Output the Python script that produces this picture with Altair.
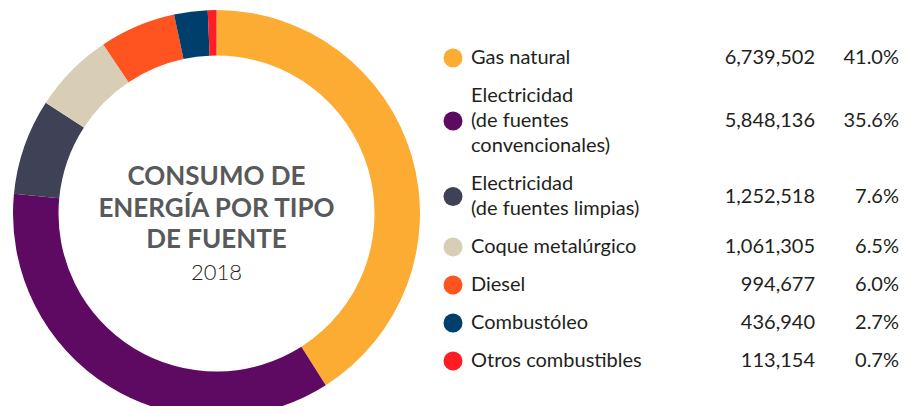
import altair as alt
import pandas as pd

categories = ["Gas natural", "Electricidad\n(de fuentes\nconvencionales)",
              "Electricidad\n(de fuentes limpias)", "Coque metalúrgico",
              "Diesel", "Combustóleo", "Otros combustibles"]
values = [6739502, 5848136, 1252518, 1061305, 994677, 436940, 113154]
percents = ["41.0%", "35.6%", "7.6%", "6.5%", "6.0%", "2.7%", "0.7%"]
colors = ["#FDAC33", "#5E0A63", "#3F4156", "#D8CEB6", "#FF5420", "#003F6B", "#FF1D25"]
title_lines = ["CONSUMO DE", "ENERGÍA POR TIPO", "DE FUENTE"]
year = "2018"

FONT = "Lato"
W, H = 891, 398
CX, CY = 208.5, 205.5
R_OUT, R_IN = 203.5, 158
LINE = 25
GAP = 1.52

# legend row layout (in line units), derived from line counts
ys = []
pos = 0.0
prev_n = None
for c in categories:
    n = c.count("\n") + 1
    if prev_n is not None:
        pos += (prev_n - 1) / 2 + GAP + (n - 1) / 2
    ys.append(pos)
    prev_n = n

df = pd.DataFrame({
    "idx": list(range(len(categories))),
    "cat": categories,
    "value": values,
    "pct": percents,
    "row": ys,
})

line_rows = []
for c, y in zip(categories, ys):
    parts = c.split("\n")
    n = len(parts)
    for k, p in enumerate(parts):
        line_rows.append({"line": p, "row": y + k - (n - 1) / 2})
lines_df = pd.DataFrame(line_rows)

color_scale = alt.Scale(domain=categories, range=colors)
y_scale = alt.Scale(domain=[-2, -2 + H / LINE], range=[0, H])
yenc = alt.Y("row:Q", scale=y_scale, axis=None)

base = alt.Chart(df)

donut = base.mark_arc(radius=R_OUT, radius2=R_IN).encode(
    theta=alt.Theta("value:Q", stack=True),
    order=alt.Order("idx:Q"),
    color=alt.Color("cat:N", scale=color_scale, legend=None),
    x=alt.value(CX), y=alt.value(CY),
)

TITLE_LH = 31.5
title_layers = []
for k, t in enumerate(title_lines):
    off = (k - 1) * TITLE_LH - 5
    title_layers.append(
        alt.Chart(pd.DataFrame({"t": [t]})).mark_text(
            font=FONT, fontSize=26, fontWeight="bold", color="#58595B",
            align="center", baseline="middle",
        ).encode(text="t:N", x=alt.value(CX), y=alt.value(CY + off))
    )

yr = alt.Chart(pd.DataFrame({"t": [year]})).mark_text(
    font=FONT, fontSize=22, fontWeight=300, color="#231F20", align="center", baseline="middle",
).encode(text="t:N", x=alt.value(CX), y=alt.value(CY + 59.5))

dots = base.mark_point(shape="circle", filled=True, opacity=1, size=361).encode(
    x=alt.value(445), y=yenc,
    color=alt.Color("cat:N", scale=color_scale, legend=None),
)

labels = alt.Chart(lines_df).mark_text(
    font=FONT, fontSize=20, color="#231F20", align="left", baseline="middle",
).encode(x=alt.value(463), y=yenc, text="line:N")

nums = base.mark_text(
    font=FONT, fontSize=20, color="#231F20", align="right", baseline="middle",
).encode(x=alt.value(807), y=yenc, text=alt.Text("value:Q", format=","))

pcts = base.mark_text(
    font=FONT, fontSize=20, color="#231F20", align="right", baseline="middle",
).encode(x=alt.value(891), y=yenc, text="pct:N")

chart = alt.layer(donut, *title_layers, yr, dots, labels, nums, pcts).properties(
    width=W, height=H, padding=0, autosize=alt.AutoSizeParams(type="none"),
).configure_view(stroke=None)

chart.save("out.html", embed_options={"renderer": "svg", "actions": False})
